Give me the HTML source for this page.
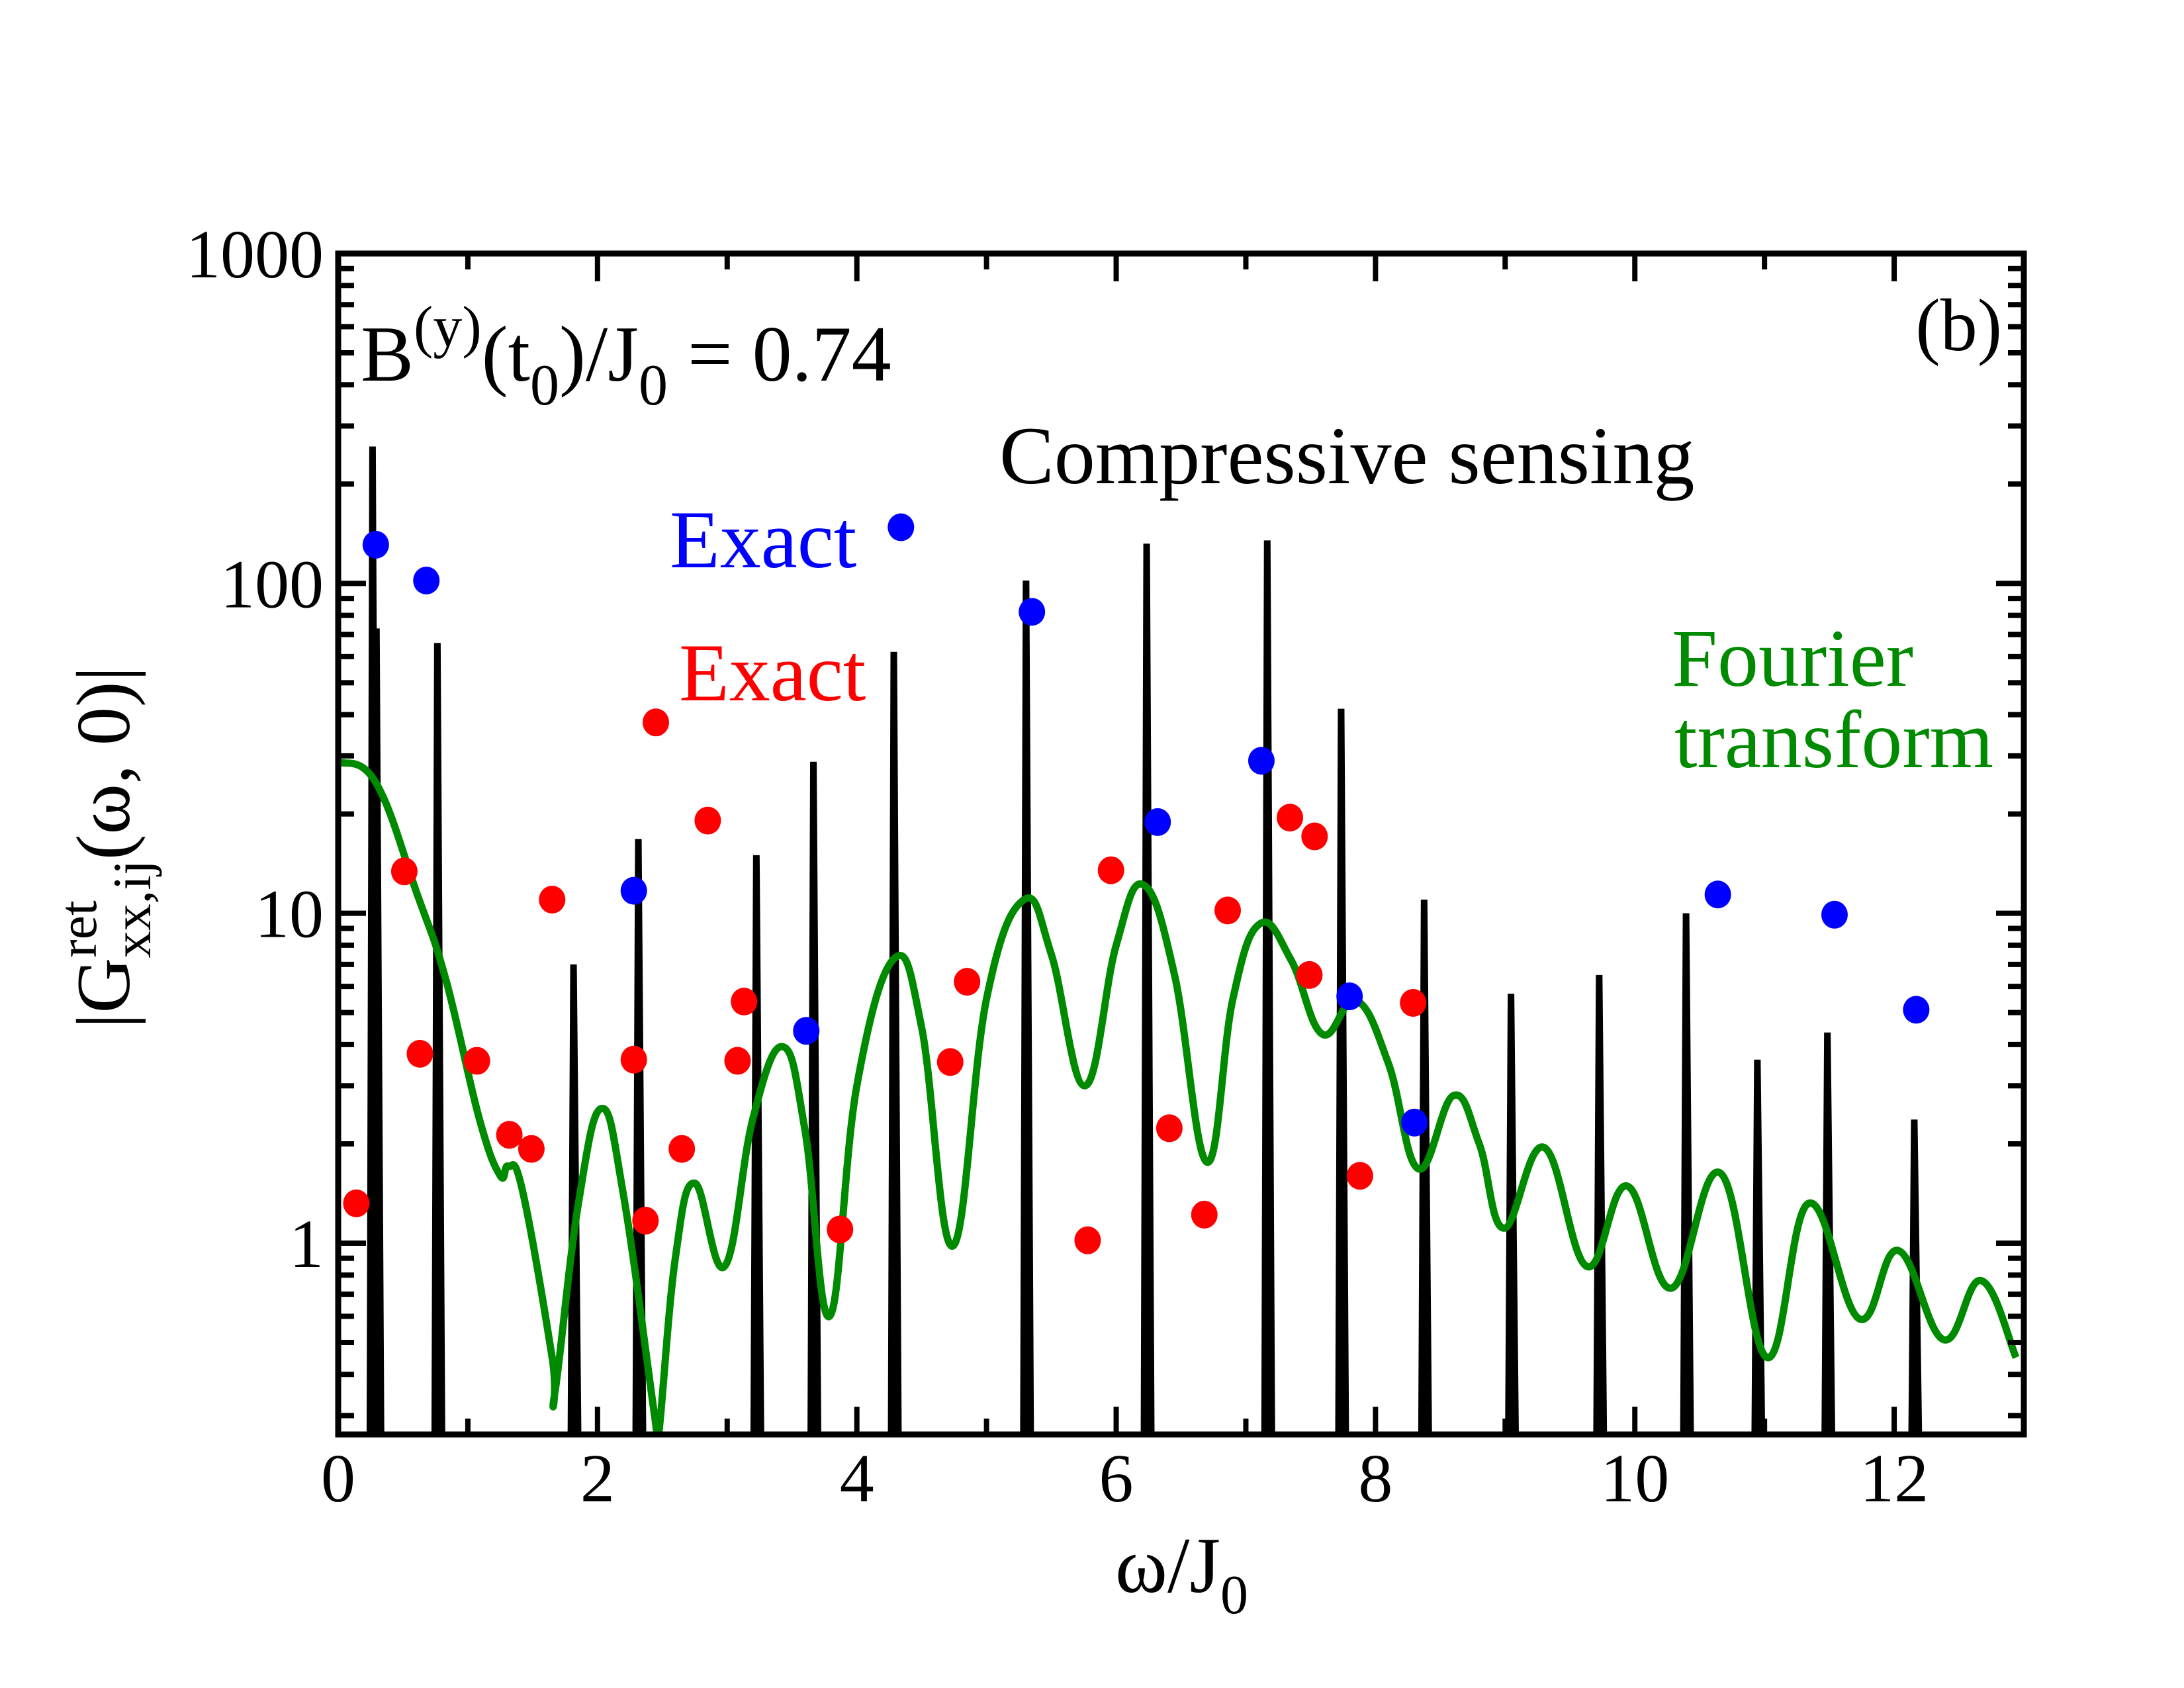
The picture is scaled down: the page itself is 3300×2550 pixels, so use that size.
<!DOCTYPE html>
<html><head><meta charset="utf-8">
<style>
html,body{margin:0;padding:0;background:#fff;}
svg{display:block;}
text{font-family:"Liberation Serif",serif;}
</style></head>
<body>
<svg id="chart" width="3300" height="2550" viewBox="0 0 3300 2550" xmlns="http://www.w3.org/2000/svg">
<rect x="0" y="0" width="3300" height="2550" fill="#fff"/>
<g id="marks"></g>
<g id="axes"></g>
<text x="545" y="575" font-size="120">B<tspan dy="-52" font-size="88">(y)</tspan><tspan dy="52">(t</tspan><tspan dy="36" font-size="88">0</tspan><tspan dy="-36">)/J</tspan><tspan dy="36" font-size="88">0</tspan><tspan dy="-36"> = 0.74</tspan></text>
<text x="3025" y="529" font-size="112" text-anchor="end">(b)</text>
<text x="1510" y="730" font-size="124">Compressive sensing</text>
<text x="1012" y="857" font-size="124" fill="#0000ff">Exact</text>
<text x="1026" y="1058" font-size="124" fill="#ff0000">Exact</text>
<text x="2526" y="1036" font-size="124" fill="#008a00">Fourier</text>
<text x="2530" y="1159" font-size="124" fill="#008a00">transform</text>
<text x="1685" y="2405" font-size="120">ω/J<tspan dy="32" font-size="84">0</tspan></text>
<g transform="translate(195,1280) rotate(-90)">
<text x="0" y="0" font-size="116" text-anchor="middle">|G<tspan dy="-50" font-size="82">ret</tspan><tspan dx="-87" dy="82" font-size="82">xx,ij</tspan><tspan dy="-32">(ω, 0)|</tspan></text>
</g>
</svg>
<script>
const fcX = [0,0.29,0.61,0.83,1.09,1.25,1.31,1.42,1.65,1.67,1.85,2.03,2.2,2.44,2.47,2.6,2.75,2.98,3.2,3.43,3.6,3.79,4.0,4.29,4.5,4.74,5.0,5.29,5.5,5.76,6.0,6.21,6.45,6.70,6.9,7.11,7.35,7.59,7.85,8.1,8.33,8.60,8.8,8.99,9.30,9.63,9.94,10.28,10.66,11.02,11.34,11.73,12.03,12.38,12.67,12.94];
const fcY = [28.8,24.9,11.4,6.3,2.37,1.6,1.71,1.45,0.45,0.35,1.3,2.56,1.4,0.3,0.26,0.9,1.52,0.85,2.4,3.94,2.2,0.6,3.0,7.3,4.5,0.98,5.5,11,7.5,3.0,8.0,12.2,6.5,1.76,5.5,9.3,7.2,4.3,5.45,3.5,1.68,2.8,2.0,1.11,1.95,0.85,1.49,0.73,1.63,0.45,1.32,0.59,0.95,0.51,0.77,0.45];
const csX = [0.27,0.30,0.77,1.82,2.32,3.23,3.67,4.29,5.31,6.24,7.17,7.74,8.38,9.05,9.73,10.40,10.95,11.49,12.16];
const csY = [260,73,66,7,16.8,15,28.8,62,102,132,135,41.7,11,5.7,6.5,10,3.6,4.35,2.37];
const blueX = [0.29,0.68,2.28,3.61,4.34,5.35,6.32,7.12,7.80,8.30,10.64,11.54,12.17];
const blueY = [131,102,11.7,4.4,148,82,18.9,29,5.6,2.32,11.4,9.9,5.1];
const redX = [0.14,0.51,0.63,1.07,1.32,1.49,1.65,2.28,2.37,2.45,2.85,2.65,3.08,3.13,3.87,4.72,4.85,5.78,5.96,6.41,6.68,6.86,7.34,7.53,7.49,7.88,8.29];
const redY = [1.32,13.4,3.75,3.57,2.13,1.93,11,3.6,1.17,37.9,19.1,1.93,3.57,5.4,1.1,3.54,6.2,1.02,13.5,2.23,1.22,10.2,19.5,17.1,6.5,1.6,5.35];
const xTicks = [0,2,4,6,8,10,12];
const yTicks = [1,10,100,1000];

const L=511,R=3058,T=383,B=2167,XMAX=13,YMIN=0.263,YMAX=1000;
const ns="http://www.w3.org/2000/svg";
function sx(v){return L+(v/XMAX)*(R-L);}
function sy(v){return B-(Math.log10(v)-Math.log10(YMIN))/(Math.log10(YMAX)-Math.log10(YMIN))*(B-T);}
function mk(tag,attrs,parent){const e=document.createElementNS(ns,tag);for(const k in attrs)e.setAttribute(k,attrs[k]);parent.appendChild(e);return e;}
const marks=document.getElementById('marks'), axes=document.getElementById('axes');
const defs=mk('defs',{},marks);
const cp=mk('clipPath',{id:'clip'},defs);
mk('rect',{x:L,y:T,width:R-L,height:B-T},cp);
const g=mk('g',{'clip-path':'url(#clip)'},marks);
for(let i=0;i<csX.length;i++){
  const x=sx(csX[i]);
  const p=mk('polygon',{points:`${x-10},${B+10} ${x-6},${sy(csY[i])} ${x+4},${sy(csY[i])} ${x+11},${B+10}`,fill:'#000'},g);
  
  
}
const pts=fcX.map((v,i)=>[sx(v),sy(fcY[i])]);
let d=`M${pts[0][0]},${pts[0][1]}`;
for(let i=0;i<pts.length-1;i++){
  const p0=pts[Math.max(0,i-1)],p1=pts[i],p2=pts[i+1],p3=pts[Math.min(pts.length-1,i+2)];
  const k=0.2;
  d+=` C${p1[0]+(p2[0]-p0[0])*k},${p1[1]+(p2[1]-p0[1])*k} ${p2[0]-(p3[0]-p1[0])*k},${p2[1]-(p3[1]-p1[1])*k} ${p2[0]},${p2[1]}`;
}
const fc=mk('path',{d:d,fill:'none',stroke:'#008a00','stroke-width':11,'stroke-linejoin':'round'},g);


for(let i=0;i<redX.length;i++){
  const c=mk('ellipse',{cx:sx(redX[i]),cy:sy(redY[i]),rx:20,ry:21,fill:'#ff0000'},marks);
  
  
}
for(let i=0;i<blueX.length;i++){
  const c=mk('ellipse',{cx:sx(blueX[i]),cy:sy(blueY[i]),rx:20,ry:21,fill:'#0000ff'},marks);
  
  
}
const fr=mk('rect',{x:L,y:T,width:R-L,height:B-T,fill:'none',stroke:'#000','stroke-width':9},axes);


for(let v=0;v<=XMAX;v++){
  const x=sx(v),len=(v%2===0)?42:24;
  mk('line',{x1:x,y1:B,x2:x,y2:B-len,stroke:'#000','stroke-width':8},axes);
  mk('line',{x1:x,y1:T,x2:x,y2:T+len,stroke:'#000','stroke-width':8},axes);
}
xTicks.forEach(v=>{
  const t=mk('text',{x:sx(v),y:2268,'font-size':104,'text-anchor':'middle'},axes);
  t.textContent=v;
  
  
});
for(let dec=0.1;dec<1000;dec*=10){
  for(let m=1;m<10;m++){
    const v=dec*m; if(v<YMIN||v>YMAX) continue;
    const y=sy(v),len=(m===1)?42:24;
    mk('line',{x1:L,y1:y,x2:L+len,y2:y,stroke:'#000','stroke-width':8},axes);
    mk('line',{x1:R,y1:y,x2:R-len,y2:y,stroke:'#000','stroke-width':8},axes);
  }
}
yTicks.forEach(v=>{
  const t=mk('text',{x:489,y:sy(v)+36,'font-size':104,'text-anchor':'end'},axes);
  t.textContent=v;
  
  
});
</script>
</body></html>
